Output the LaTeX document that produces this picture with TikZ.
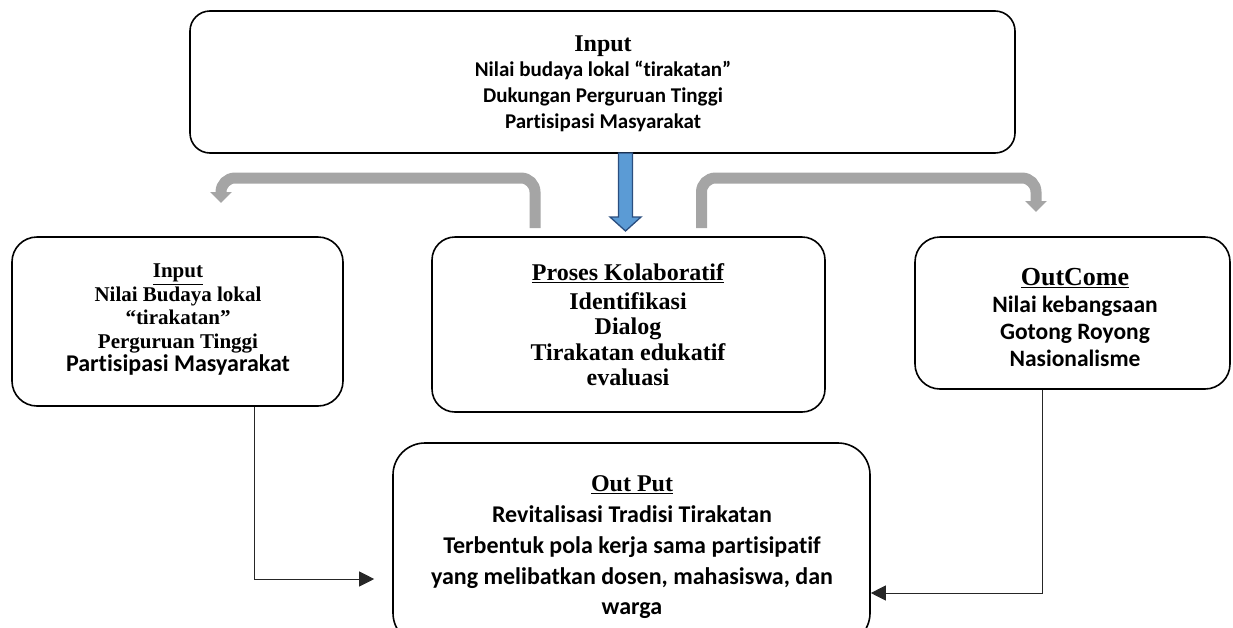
\documentclass[tikz,border=0pt]{standalone}
\usepackage{fontspec}
\setmainfont{Liberation Serif}
\newfontfamily\calfont{Carlito}[Ligatures=CommonOff]
\usetikzlibrary{arrows.meta,calc}
\definecolor{grayarrow}{HTML}{A5A5A5}
\definecolor{bluefill}{HTML}{5B9BD5}
\definecolor{blueedge}{HTML}{2A4E7F}
\newcommand\Srf[2]{{\rmfamily\bfseries\fontsize{#1}{#1}\selectfont #2}}
\newcommand\Cal[2]{{\calfont\bfseries\fontsize{#1}{#1}\selectfont #2}}
\begin{document}
\begin{tikzpicture}[x=1pt,y=-1pt,
  roundbox/.style={draw, line width=1.6pt, inner sep=0pt},
  txt/.style={align=center, inner sep=0pt},
  grayshaft/.style={draw=grayarrow, line width=11pt, rounded corners=14pt, -{Triangle[length=11pt,width=21pt]}},
  conn/.style={draw=black!85, line width=1pt, -{Triangle[length=15pt,width=15pt]}},
  bluearrow/.style={fill=bluefill, draw=blueedge, line width=1.3pt, line join=miter}
]
\useasboundingbox (0,0) rectangle (1233,627);

% boxes
\node[roundbox, rounded corners=20pt, minimum width=825pt, minimum height=142pt] (top) at (602.5,82) {};
\node[roundbox, rounded corners=25pt, minimum width=331pt, minimum height=169pt] (lbox) at (177.5,321.5) {};
\node[roundbox, rounded corners=23pt, minimum width=393pt, minimum height=175pt] (mbox) at (628.5,324.5) {};
\node[roundbox, rounded corners=25pt, minimum width=315pt, minimum height=152pt] (rbox) at (1072.5,313) {};
\node[roundbox, rounded corners=32pt, minimum width=477pt, minimum height=202pt] (outp) at (631.5,544) {};

% texts
\node[txt, font=\calfont\bfseries\fontsize{21}{25.7}\selectfont] (toptxt) at (603,83.5)
  {\Srf{24}{Input}\\ Nilai budaya lokal “tirakatan”\\ Dukungan Perguruan Tinggi\\ Partisipasi Masyarakat};
\node[txt, font=\rmfamily\bfseries\fontsize{21}{23.5}\selectfont] (ltxt) at (178,320)
  {\underline{Input}\\ Nilai Budaya lokal\\ “tirakatan”\\ Perguruan Tinggi\\ \Cal{24}{Partisipasi Masyarakat}};
\node[txt, font=\rmfamily\bfseries\fontsize{24}{25.5}\selectfont] (mtxt) at (628,325)
  {\underline{Proses Kolaboratif}\\[3pt] Identifikasi\\ Dialog\\ Tirakatan edukatif\\ evaluasi};
\node[txt, font=\calfont\bfseries\fontsize{23.5}{27}\selectfont] (rtxt) at (1075,317.5)
  {\Srf{26}{\underline{OutCome}}\\ Nilai kebangsaan\\ Gotong Royong\\ Nasionalisme};
\node[txt, font=\calfont\bfseries\fontsize{24}{30.75}\selectfont] (otxt) at (632,547.5)
  {\Srf{24}{\underline{Out Put}}\\ Revitalisasi Tradisi Tirakatan\\ Terbentuk pola kerja sama partisipatif\\ yang melibatkan dosen, mahasiswa, dan\\ warga};

% blue down arrow
\draw[bluearrow] (618.5,153) -- (632.5,153) -- (632.5,217) -- (641,217) -- (625.5,231) -- (610,217) -- (618.5,217) -- cycle;

% gray bent arrows
\coordinate (gls) at (535,228);
\coordinate (gle) at (221,203);
\coordinate (grs) at (701.5,228);
\coordinate (gre) at (1036,212);
\draw[grayshaft] (gls) -- ++(0,-50) -| (gle);
\draw[grayshaft] (grs) -- ++(0,-50) -| (gre);

% connectors
\coordinate (ly) at (0,579);
\coordinate (ry) at (0,593);
\draw[conn, shorten >=18pt] ($(lbox.south)+(76.5,0)$) |- (outp.west |- ly);
\draw[conn] ($(rbox.south)+(-30.5,0)$) |- (outp.east |- ry);
\end{tikzpicture}
\end{document}
